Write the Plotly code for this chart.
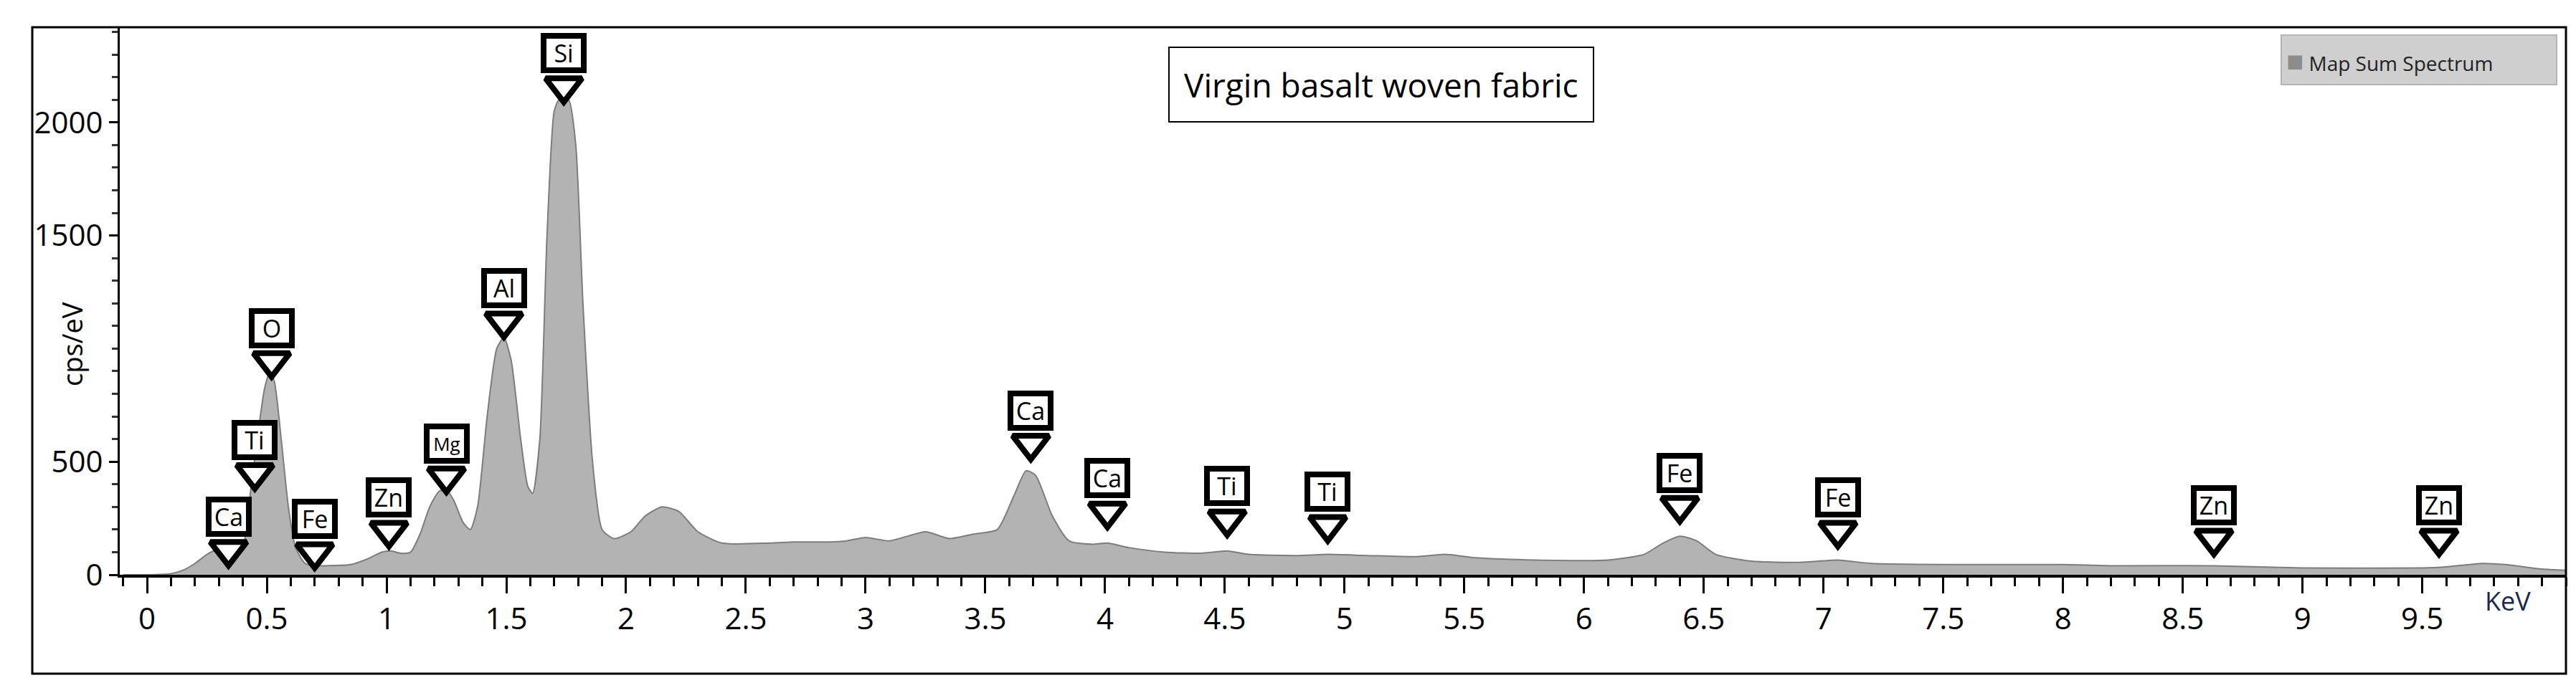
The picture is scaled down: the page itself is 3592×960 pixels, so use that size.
import plotly.graph_objects as go

energy = [-0.1,0,0.1,0.15,0.2,0.25,0.28,0.32,0.36,0.40,0.43,0.46,0.49,0.51,0.53,0.56,0.59,0.62,0.66,0.70,0.75,0.85,0.92,0.98,1.02,1.06,1.10,1.14,1.18,1.22,1.25,1.28,1.32,1.35,1.38,1.42,1.46,1.49,1.52,1.56,1.59,1.61,1.64,1.67,1.70,1.72,1.76,1.79,1.82,1.86,1.90,1.95,2.02,2.08,2.15,2.22,2.30,2.40,2.6,2.7,2.85,2.92,3.0,3.1,3.25,3.35,3.45,3.55,3.62,3.67,3.71,3.78,3.85,3.95,4.01,4.1,4.25,4.4,4.51,4.6,4.8,4.93,5.1,5.3,5.42,5.55,5.8,6.1,6.25,6.33,6.40,6.47,6.55,6.7,6.9,7.06,7.2,7.6,8.0,8.2,8.63,9.0,9.5,9.6,9.75,9.85,10.0,10.1]
counts = [0,0,5,20,50,90,105,90,80,120,350,600,820,890,860,600,300,120,50,40,40,45,70,100,105,95,100,180,300,370,375,330,230,200,300,700,1000,1050,950,600,390,360,600,1500,2050,2100,2100,1900,1200,500,200,160,190,260,300,280,190,140,140,145,145,150,165,150,190,160,180,200,350,460,440,260,150,135,140,120,100,95,105,90,85,90,85,80,90,75,65,65,90,140,170,150,90,60,55,65,50,45,45,40,40,30,30,35,50,45,25,20]

peak_labels = ["Ca","Ti","O","Fe","Zn","Mg","Al","Si","Ca","Ca","Ti","Ti","Fe","Fe","Zn","Zn"]
peak_x = [0.34,0.45,0.52,0.70,1.01,1.25,1.49,1.74,3.69,4.01,4.51,4.93,6.40,7.06,8.63,9.57]
peak_y = [60,400,895,50,145,385,1070,2110,530,230,195,170,255,145,110,110]

x_ticks = [0,0.5,1,1.5,2,2.5,3,3.5,4,4.5,5,5.5,6,6.5,7,7.5,8,8.5,9,9.5]
y_ticks = [0,500,1500,2000]

fig = go.Figure()
fig.add_trace(go.Scatter(x=energy, y=counts, mode="lines", line=dict(color="#7d7d7d", width=2, shape="spline", smoothing=0.6),
                         fill="tozeroy", fillcolor="#b3b3b3", showlegend=False))

tip_off = 50
fig.add_trace(go.Scatter(x=peak_x, y=[v + tip_off for v in peak_y], mode="markers",
                         marker=dict(symbol="triangle-down", size=44, color="white", line=dict(color="black", width=8)),
                         showlegend=False, hoverinfo="skip"))
for lab, px, py in zip(peak_labels, peak_x, peak_y):
    fig.add_annotation(x=px, y=py, text=lab, showarrow=False, yshift=62, yanchor="middle",
                       font=dict(family="Open Sans", size=34 if lab != "Mg" else 26, color="black"),
                       bgcolor="white", bordercolor="black", borderwidth=8, borderpad=0, width=48, height=40)

fig.add_annotation(xref="paper", yref="paper", x=(1918-159)/3411, y=0.895, text="Virgin basalt woven fabric", showarrow=False,
                   font=dict(family="Open Sans", size=46, color="black"), bordercolor="black", borderwidth=2,
                   borderpad=20, bgcolor="white", xanchor="center", yanchor="middle")
fig.add_annotation(xref="paper", yref="paper", x=(3455-159)/3411, y=(794-830)/764, text="KeV", showarrow=False,
                   font=dict(family="Open Sans", size=36, color="#1a2a4a"), xanchor="left", yanchor="middle")
fig.add_annotation(xref="paper", yref="paper", x=(92-159)/3411, y=(794-472)/764, text="cps/eV", showarrow=False,
                   textangle=-90, font=dict(family="Open Sans", size=38, color="black"), xanchor="center", yanchor="middle")
fig.add_annotation(xref="paper", yref="paper", x=(3172-159)/3411, y=(794-75)/764,
                   text="<span style='color:#8c8c8c;font-size:40px'>■</span> Map Sum Spectrum", showarrow=False,
                   font=dict(family="Open Sans", size=28, color="#222"), bgcolor="#cfcfcf", bordercolor="#b5b5b5",
                   borderwidth=2, borderpad=6, xanchor="left", yanchor="middle", width=370, align="left")

fig.add_shape(type="rect", xref="paper", yref="paper", x0=(37-159)/3411, x1=1, y0=(794-932)/764, y1=1,
              line=dict(color="black", width=3))

fig.update_xaxes(range=[-0.114, 10.1], tickvals=x_ticks, ticks="outside", ticklen=22, tickwidth=3, tickcolor="black",
                 minor=dict(dtick=0.1, ticks="outside", ticklen=12, tickwidth=3, tickcolor="black"),
                 showline=True, linecolor="black", linewidth=4, showgrid=False, zeroline=False,
                 tickfont=dict(family="Open Sans", size=42, color="black"))
fig.update_yaxes(range=[0, 2421], tickvals=y_ticks, ticks="outside", ticklen=12, tickwidth=3, tickcolor="black",
                 minor=dict(dtick=100, ticks="outside", ticklen=8, tickwidth=3, tickcolor="#333"),
                 showline=True, linecolor="black", linewidth=3, showgrid=False, zeroline=False,
                 tickfont=dict(family="Open Sans", size=42, color="black"))

fig.update_layout(width=3592, height=960, margin=dict(l=159, r=22, t=30, b=166),
                  plot_bgcolor="white", paper_bgcolor="white")
fig.write_html("out.html")
